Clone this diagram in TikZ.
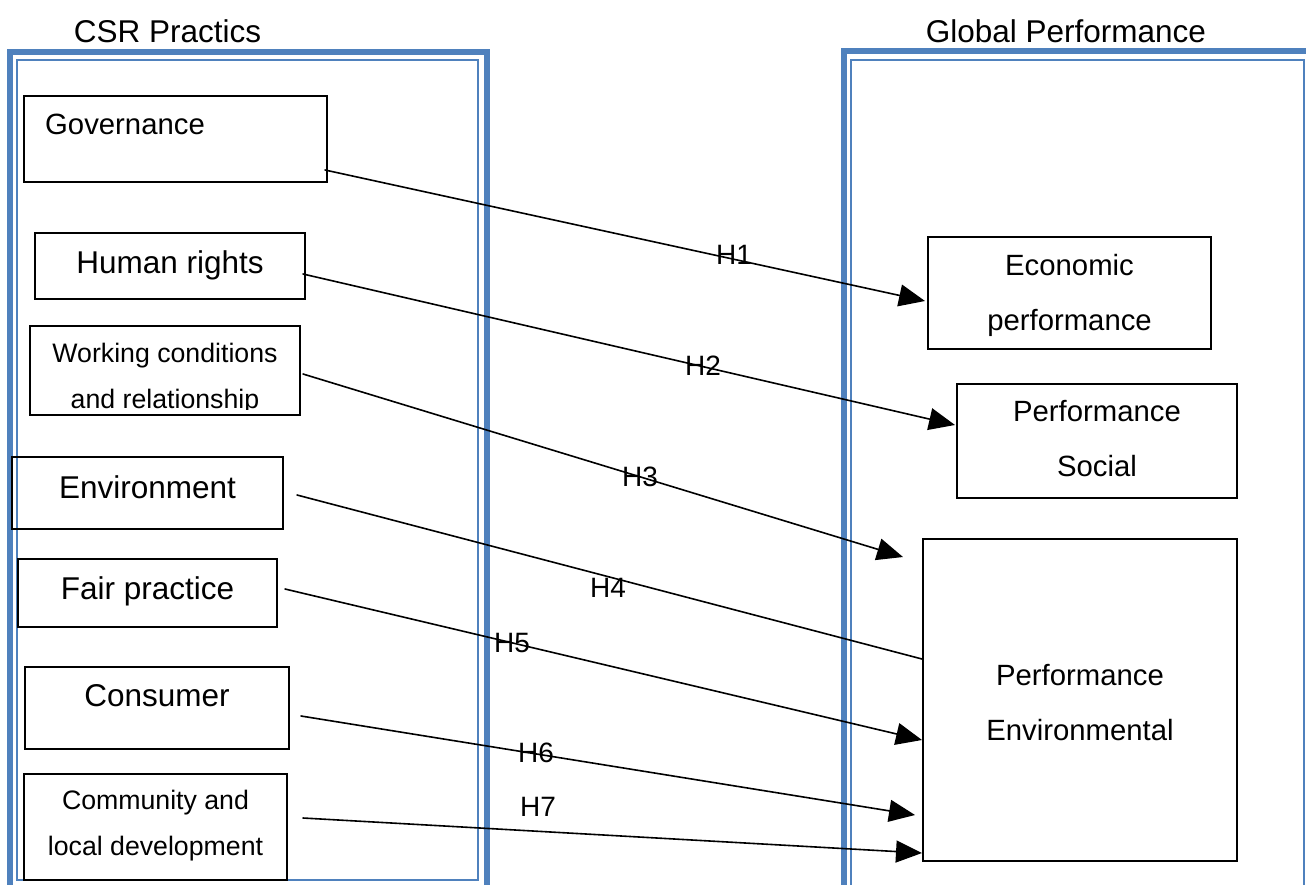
\documentclass[tikz,border=0pt]{standalone}
\usepackage{fontspec}
\setmainfont{Liberation Sans}
\usepackage{xcolor}
\usepackage{tikz}
\usetikzlibrary{arrows.meta}
\definecolor{frameblue}{HTML}{4F81BD}
\tikzset{
  outer/.style={draw=frameblue, line width=6pt},
  inner/.style={draw=frameblue, line width=1.8pt},
  box/.style={draw=black, line width=1.4pt, inner sep=0pt},
  big/.style={font=\fontsize{31.5}{38}\selectfont, inner sep=0pt, anchor=base},
  mid/.style={font=\fontsize{29.3}{55}\selectfont, inner sep=0pt, anchor=base, align=center},
  small/.style={font=\fontsize{26.7}{46}\selectfont, inner sep=0pt, anchor=base, align=center},
  hyp/.style={font=\fontsize{28}{34}\selectfont, inner sep=0pt, anchor=base},
  link/.style={draw=black, line width=1.6pt, line cap=round, -{Triangle[length=26pt,width=22pt]}},
  plain/.style={draw=black, line width=1.6pt, line cap=round},
}
\begin{document}
\begin{tikzpicture}[x=1pt,y=-1pt]
  \useasboundingbox (0,0) rectangle (1306,884);
  % the two panels
  \draw[outer] (10,52) rectangle (487,892);
  \draw[inner] (17,60) rectangle (478,880);
  \draw[outer] (844,51) rectangle (1314,892);
  \draw[inner] (851,60) rectangle (1304,892);
  \node[big] (csr) at (167.5,42) {CSR Practics};
  \node[big] (glob) at (1066,42) {Global Performance};

  % left boxes
  \node[box, minimum width=303pt, minimum height=86pt] (gov) at (175.5,139) {};
  \node[mid, anchor=base west] (gov-t) at (45,134) {Governance};
  \node[box, minimum width=270pt, minimum height=66pt] (hum) at (170,266) {};
  \node[big] (hum-t) at (170,273) {Human rights};
  \node[box, minimum width=270pt, minimum height=89pt] (work) at (165,370.5) {};
  \begin{scope}
    \clip (30,326) rectangle (300,409);
    \node[small] (work-t) at (165,408) {Working conditions\\and relationship};
  \end{scope}
  \node[box, minimum width=271pt, minimum height=72pt] (env) at (147.5,493) {};
  \node[big] (env-t) at (147.5,498) {Environment};
  \node[box, minimum width=259pt, minimum height=68pt] (fair) at (147.5,593) {};
  \node[big] (fair-t) at (147.5,599) {Fair practice};
  \node[box, minimum width=264pt, minimum height=82pt] (cons) at (157,708) {};
  \node[big] (cons-t) at (157,706) {Consumer};
  \node[box, minimum width=263pt, minimum height=106pt] (comm) at (155.5,827) {};
  \node[small] (comm-t) at (155.5,855) {Community and\\local development};

  % right boxes
  \node[box, minimum width=283pt, minimum height=112pt] (econ) at (1069.5,293) {};
  \node[mid] (econ-t) at (1069.5,330) {Economic\\performance};
  \node[box, minimum width=280pt, minimum height=114pt] (soc) at (1097,441) {};
  \node[mid] (soc-t) at (1097,476) {Performance\\Social};
  \node[box, minimum width=314pt, minimum height=322pt] (envp) at (1080,700) {};
  \node[mid] (envp-t) at (1080,740) {Performance\\Environmental};

  % arrow ends
  \coordinate (s1) at (325,170);
  \coordinate (t1) at (925,301);
  \coordinate (s2) at (303,274);
  \coordinate (t2) at (955,425);
  \coordinate (s3) at (303,374);
  \coordinate (t3) at (903,557);
  \coordinate (s4) at (297,495);
  \coordinate (t4) at (922,659);
  \coordinate (s5) at (285,589);
  \coordinate (t5) at (922,740);
  \coordinate (s6) at (301,716);
  \coordinate (t6) at (915,815);
  \coordinate (s7) at (303,818);
  \coordinate (t7) at (922,853);
  \draw[link] (s1) -- (t1);
  \draw[link] (s2) -- (t2);
  \draw[link] (s3) -- (t3);
  \draw[plain] (s4) -- (t4);
  \draw[link] (s5) -- (t5);
  \draw[link] (s6) -- (t6);
  \draw[link] (s7) -- (t7);

  \node[hyp] (h1) at (734,264) {H1};
  \node[hyp] (h2) at (703,375) {H2};
  \node[hyp] (h3) at (640,486) {H3};
  \node[hyp] (h4) at (608,597) {H4};
  \node[hyp] (h5) at (512,652) {H5};
  \node[hyp] (h6) at (536,762) {H6};
  \node[hyp] (h7) at (538,816) {H7};
\end{tikzpicture}
\end{document}
